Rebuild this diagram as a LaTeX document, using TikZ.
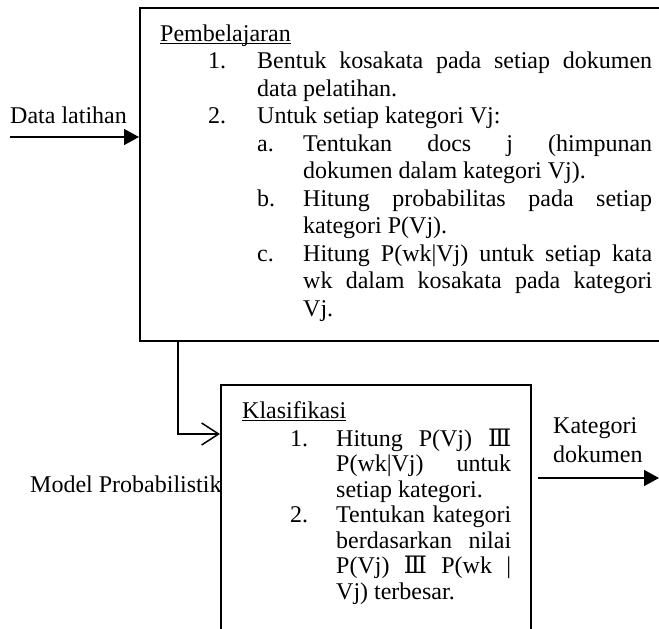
\documentclass[tikz,border=0pt]{standalone}
\usepackage{fontspec}
\setmainfont{Liberation Serif}
\newfontfamily\symfont{DejaVu Serif}
\usetikzlibrary{arrows.meta}
\setlength{\parindent}{0pt}
\tolerance=10000
\hyphenpenalty=10000
\newcommand{\ulin}[1]{\setbox0\hbox{#1}\rlap{\rule[-3pt]{\wd0}{1.2pt}}#1}
\newcommand{\tri}{{\symfont Ⅲ}}

\begin{document}
\begin{tikzpicture}[x=1pt,y=-1pt,
  txt/.style={inner sep=0pt,anchor=base west,font=\fontsize{24}{27.5}\selectfont},
  para/.style={txt,align=justify,text width=#1},
  tightpara/.style={para=#1,font=\fontsize{24}{25.5}\selectfont},
  box/.style={draw,line width=#1,inner sep=0pt,anchor=north west},
  fillarrow/.style={line width=1.5pt,-{Triangle[length=15pt,width=16pt]}},
  barbarrow/.style={line width=1.5pt,-{Straight Barb[length=17pt,width=22pt,line width=1.5pt]}}]
\useasboundingbox (0,0) rectangle (659,629);
\clip (0,0) rectangle (659,629);
% the two boxes, cut off at the page edge
\node[box=2pt,minimum width=560pt,minimum height=333pt] (learn) at (139,7) {};
\node[box=1.5pt,minimum width=310pt,minimum height=300pt] (classify) at (220,384) {};
% Pembelajaran
\node[txt] (learnhead) at (160,41) {\ulin{Pembelajaran}};
\node[txt] (n1) at (208,68.5) {1.};
\node[para=395pt] (s1) at (257,68.5) {Bentuk kosakata pada setiap dokumen\linebreak data pelatihan.};
\node[txt] (n2) at (208,123.5) {2.};
\node[para=395pt] (s2) at (257,123.5) {Untuk setiap kategori Vj:};
\node[txt] (na) at (257,151) {a.};
\node[para=349pt] (sa) at (303,151) {Tentukan docs j (himpunan\linebreak dokumen dalam kategori Vj).};
\node[txt] (nb) at (257,206) {b.};
\node[para=349pt] (sb) at (303,206) {Hitung probabilitas pada setiap\linebreak kategori P(Vj).};
\node[txt] (nc) at (257,261) {c.};
\node[para=349pt] (sc) at (303,261) {Hitung P(wk|Vj) untuk setiap kata\linebreak wk dalam kosakata pada kategori\linebreak Vj.};
% Klasifikasi
\node[txt] (classhead) at (242,418) {\ulin{Klasifikasi}};
\node[txt] (k1) at (290,446) {1.};
\node[tightpara=175pt] (t1) at (336,446) {Hitung P(Vj) \tri\linebreak P(wk|Vj) untuk\linebreak setiap kategori.};
\node[txt] (k2) at (290,522.5) {2.};
\node[tightpara=175pt] (t2) at (336,522.5) {Tentukan kategori\linebreak berdasarkan nilai\linebreak P(Vj) \tri{} P(wk |\linebreak Vj) terbesar.};
% labels outside
\node[txt] (datalbl) at (10,123) {Data latihan};
\node[txt] (modellbl) at (30,492) {Model Probabilistik};
\node[txt,align=left,text width=100pt,font=\fontsize{24}{29}\selectfont] (katlbl) at (553,433) {Kategori\\dokumen};
% connectors
\coordinate (datain) at (10,137);
\draw[fillarrow] (datain) -- (datain -| learn.west);
\draw[barbarrow] ([xshift=39pt]learn.south west) |- ([yshift=-50pt]classify.north west);
\coordinate (katout) at (659,478);
\draw[fillarrow] ([xshift=6pt]classify.east |- katout) -- (katout);
\end{tikzpicture}
\end{document}
